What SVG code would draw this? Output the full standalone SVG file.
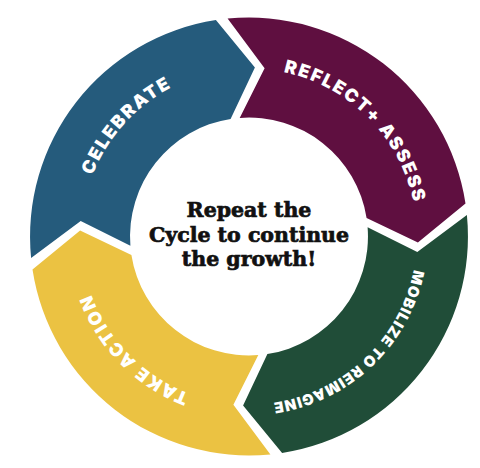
<svg xmlns="http://www.w3.org/2000/svg" width="480" height="468" viewBox="0 0 480 468">
<style>
.lbl{fill:#ffffff;font-family:Inter,"Liberation Sans",sans-serif;font-weight:900;font-size:18px;letter-spacing:1.8px}
.sm{font-size:15px;letter-spacing:1px}
.ctr{fill:#111111;stroke:#111111;stroke-width:0.7px;font-family:"DejaVu Serif","Liberation Serif",serif;font-weight:bold;font-size:20.5px;text-anchor:middle}
</style>
<defs>
<path id="seg" d="M227.6,18.6 A219,219 0 0 1 465.5,203.4 L417.9,242.4 L366.6,218.1 A119,119 0 0 0 239.7,117.9 L264.6,68.2 Z"/>
<path id="ring" d="M249,68.5 A168,168 0 1 1 249,404.5 A168,168 0 1 1 249,68.5"/>
</defs>
<rect width="480" height="468" fill="#ffffff"/>
<g id="celebrate">
<use href="#seg" fill="#255B7C" transform="rotate(-90 249 236.5)"/>
<text class="lbl"><textPath href="#ring" startOffset="914.8" text-anchor="middle">CELEBRATE</textPath></text>
</g>
<g id="reflect">
<use href="#seg" fill="#5F0F40"/>
<text class="lbl"><textPath href="#ring" startOffset="132.8" text-anchor="middle">REFLECT+ ASSESS</textPath></text>
</g>
<g id="mobilize">
<use href="#seg" fill="#204D38" transform="rotate(90 249 236.5)"/>
<text class="lbl sm"><textPath href="#ring" startOffset="400.5" text-anchor="middle">MOBILIZE TO REIMAGINE</textPath></text>
</g>
<g id="take-action">
<use href="#seg" fill="#EBC242" transform="rotate(180 249 236.5)"/>
<text class="lbl"><textPath href="#ring" startOffset="661" text-anchor="middle">TAKE ACTION</textPath></text>
</g>
<g id="center">
<text class="ctr" x="249" y="217">Repeat the</text>
<text class="ctr" x="249" y="242">Cycle to continue</text>
<text class="ctr" x="249" y="266">the growth!</text>
</g>
<g id="connectors"></g>
</svg>
